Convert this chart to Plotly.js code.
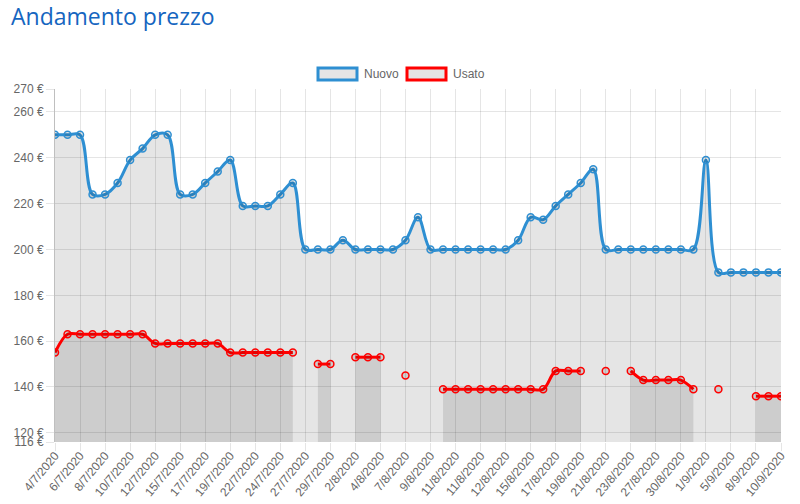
<!DOCTYPE html>
<html>
<head>
<meta charset="utf-8">
<script src="https://cdn.plot.ly/plotly-3.0.1.min.js"></script>
<style>
  html, body { margin: 0; padding: 0; background: #fff; }
  #chart { width: 800px; height: 504px; }
</style>
</head>
<body>
<div id="chart"></div>
<script>
// ---- data ----
const tickLabels = ["4/7/2020","6/7/2020","8/7/2020","10/7/2020","12/7/2020","15/7/2020","17/7/2020","19/7/2020","22/7/2020","24/7/2020","27/7/2020","29/7/2020","2/8/2020","4/8/2020","7/8/2020","9/8/2020","11/8/2020","11/8/2020","12/8/2020","15/8/2020","17/8/2020","19/8/2020","21/8/2020","23/8/2020","27/8/2020","30/8/2020","1/9/2020","5/9/2020","8/9/2020","10/9/2020"];

const nuovo = [250,250,250,224,224,229,239,244,250,250,224,224,229,234,239,219,219,219,224,229,
               200,200,200,204,200,200,200,200,204,214,200,200,200,200,200,200,200,204,214,213,
               219,224,229,235,200,200,200,200,200,200,200,200,239,190,190,190,190,190,190];

const usato = [155,163,163,163,163,163,163,163,159,159,159,159,159,159,155,155,155,155,155,155,
               null,150,150,null,153,153,153,null,145,null,null,139,139,139,139,139,139,139,139,139,
               147,147,147,null,147,null,147,143,143,143,143,139,null,139,null,null,136,136,136];

const yTicks = [116,120,140,160,180,200,220,240,260,270];

// ---- layout geometry ----
const W = 800, H = 504;
const M = {l: 55, r: 19, t: 89, b: 62};
const pw = W - M.l - M.r, ph = H - M.t - M.b;
const px = x => (x - M.l) / pw;
const py = y => (H - M.b - y) / ph;

const idx = nuovo.map((_, i) => i);
const tickVals = tickLabels.map((_, i) => i * 2);

const blue = '#2e8fd2';
const red = '#ff0000';
const fillC = 'rgba(0,0,0,0.1)';

// split a series with gaps into contiguous runs (for per-run area fill)
function runs(y) {
  const out = [];
  let cur = null;
  y.forEach((v, i) => {
    if (v === null) { if (cur) { out.push(cur); cur = null; } }
    else { if (!cur) cur = {x: [], y: []}; cur.x.push(i); cur.y.push(v); }
  });
  if (cur) out.push(cur);
  return out;
}

function fillTraces(y) {
  return runs(y).filter(r => r.x.length > 1).map(r => ({
    type: 'scatter', mode: 'none', x: r.x, y: r.y,
    line: {shape: 'spline', smoothing: 1},
    fill: 'tozeroy', fillcolor: fillC,
    showlegend: false, hoverinfo: 'skip'
  }));
}

function lineTrace(name, y, color) {
  return {
    type: 'scatter', mode: 'lines+markers', name: name,
    x: idx, y: y,
    line: {color: color, width: 3, shape: 'spline', smoothing: 1},
    marker: {symbol: 'circle', size: 7, color: fillC, line: {color: color, width: 1.5}},
    connectgaps: false, showlegend: false,
    hovertemplate: name + ': %{y} €<extra></extra>'
  };
}

const data = [].concat(
  fillTraces(nuovo),
  fillTraces(usato),
  [lineTrace('Usato', usato, red), lineTrace('Nuovo', nuovo, blue)]
);

const font = {family: '"Liberation Sans", Arial, sans-serif', size: 12, color: '#666'};

const layout = {
  width: W, height: H,
  margin: M,
  paper_bgcolor: '#fff', plot_bgcolor: '#fff',
  font: font,
  title: {
    text: 'Andamento prezzo',
    font: {family: '"Open Sans", sans-serif', size: 23, color: '#1565c0'},
    xref: 'container', yref: 'container',
    x: 11 / W, xanchor: 'left',
    y: 1 - 17 / H, yanchor: 'middle'
  },
  xaxis: {
    range: [0, nuovo.length - 1],
    tickmode: 'array', tickvals: tickVals, ticktext: tickLabels,
    tickangle: -50,
    ticks: 'outside', ticklen: 8, tickcolor: 'rgba(0,0,0,0.1)',
    ticklabelstandoff: -7,
    showgrid: true, gridcolor: 'rgba(0,0,0,0.1)', gridwidth: 1,
    zeroline: false, showline: false,
    tickfont: font, fixedrange: true
  },
  yaxis: {
    range: [116, 270],
    tickmode: 'array', tickvals: yTicks, ticktext: yTicks.map(v => v + ' €'),
    ticks: 'outside', ticklen: 8, tickcolor: 'rgba(0,0,0,0.1)',
    showgrid: true, gridcolor: 'rgba(0,0,0,0.1)', gridwidth: 1,
    zeroline: false,
    showline: true, linecolor: 'rgba(0,0,0,0.25)', linewidth: 1,
    tickfont: font, fixedrange: true
  },
  shapes: [
    {type: 'rect', xref: 'paper', yref: 'paper',
     x0: px(318), x1: px(357), y0: py(80), y1: py(68),
     fillcolor: fillC, line: {color: blue, width: 3}},
    {type: 'rect', xref: 'paper', yref: 'paper',
     x0: px(407), x1: px(446), y0: py(80), y1: py(68),
     fillcolor: fillC, line: {color: red, width: 3}}
  ],
  annotations: [
    {text: 'Nuovo', xref: 'paper', yref: 'paper', x: px(362), y: py(74),
     xanchor: 'left', yanchor: 'middle', showarrow: false, font: font},
    {text: 'Usato', xref: 'paper', yref: 'paper', x: px(451), y: py(74),
     xanchor: 'left', yanchor: 'middle', showarrow: false, font: font}
  ]
};

Plotly.newPlot('chart', data, layout, {displayModeBar: false});
</script>
</body>
</html>
